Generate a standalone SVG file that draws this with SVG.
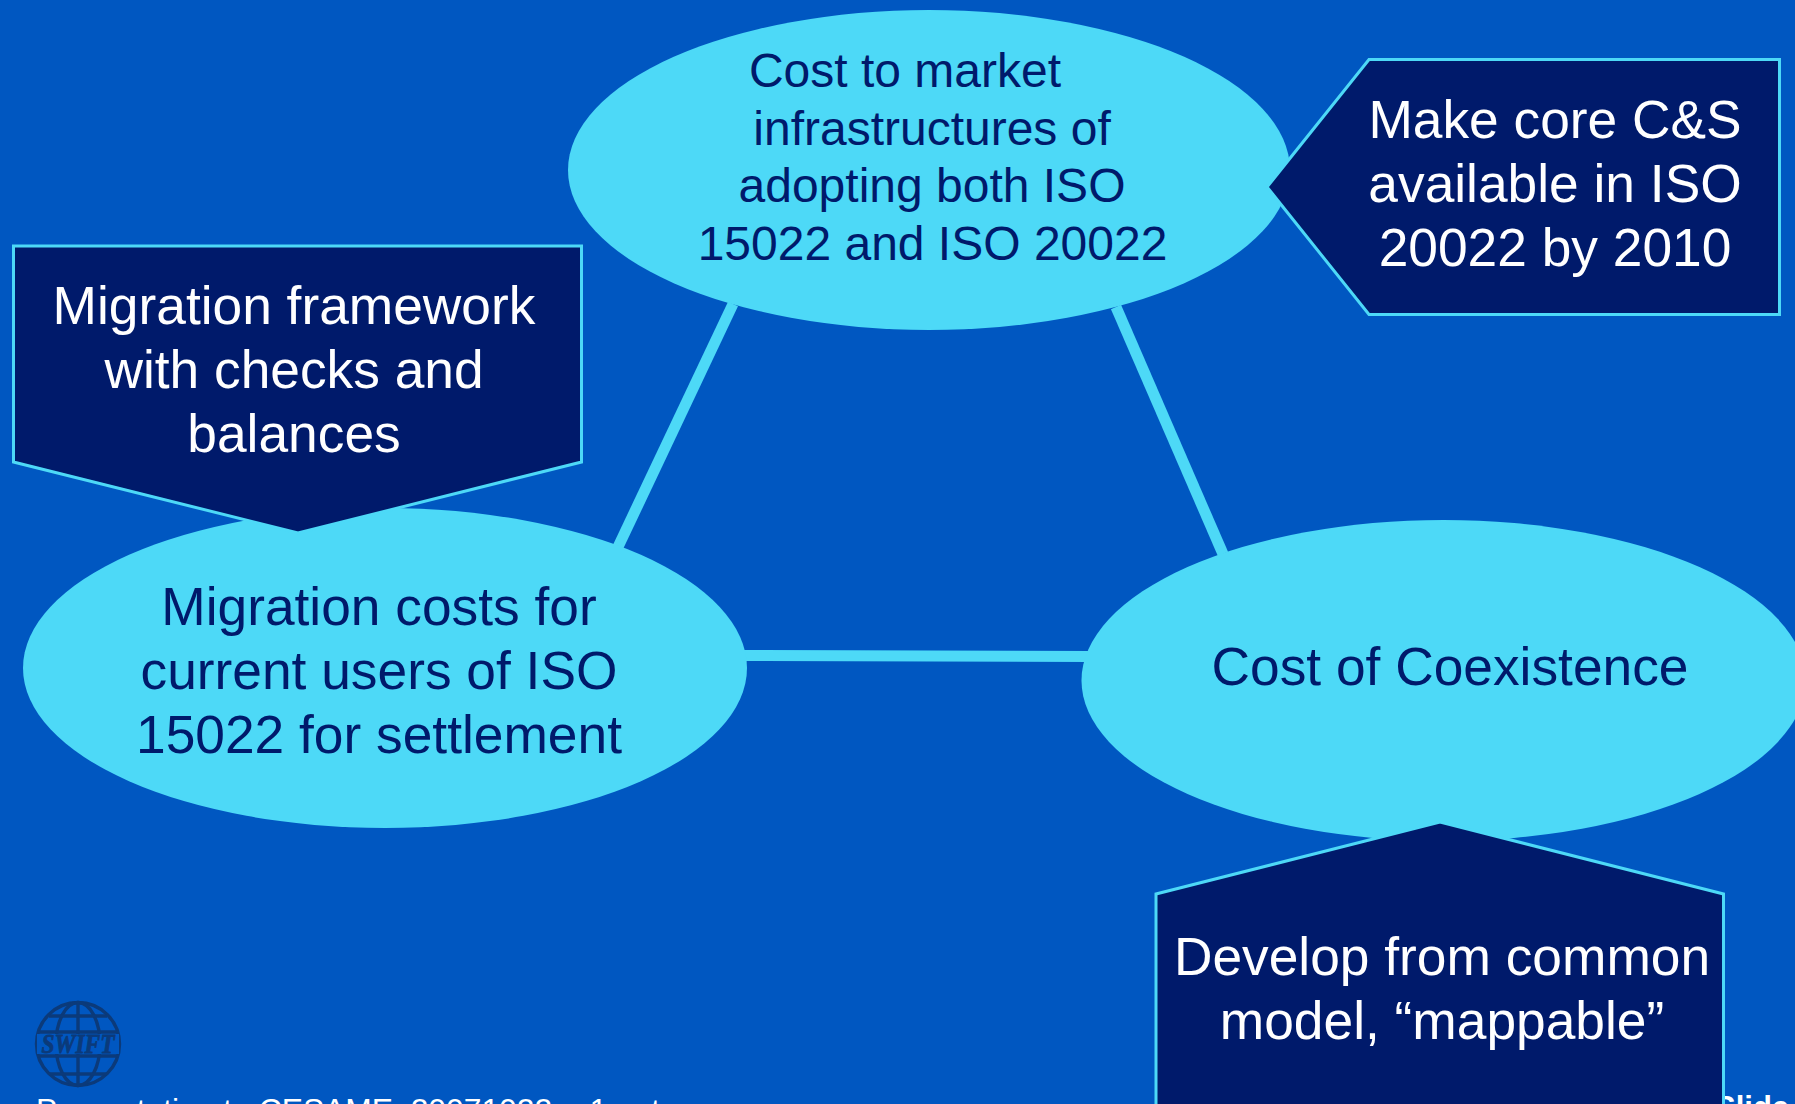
<svg xmlns="http://www.w3.org/2000/svg" width="1795" height="1104" viewBox="0 0 1795 1104">
<style>
text{font-family:"Liberation Sans",Arial,sans-serif;text-anchor:middle}
.e{fill:#4dd9f7}
.b{fill:#001a6b;stroke:#4dd9f7;stroke-width:3}
.w{fill:#fff;font-size:53.3px}
.d{fill:#001a6b;font-size:53.3px}
.t{fill:#001a6b;font-size:48px}
.c{stroke:#4dd9f7;stroke-width:11;fill:none}
.g{fill:none;stroke:#0b3a7a;stroke-width:3.4}
</style>
<rect width="1795" height="1104" fill="#0057c1"/>
<g id="connectors">
<line class="c" x1="733" y1="304" x2="618" y2="547"/>
<line class="c" x1="1116" y1="307" x2="1223" y2="554"/>
<line class="c" x1="744" y1="655.5" x2="1090" y2="656.5"/>
</g>
<g id="footer-slide"><text x="1715" y="1118" style="text-anchor:start;font-size:31px;font-weight:bold" fill="#fff">Slide</text></g>
<g id="node-top">
<ellipse class="e" cx="929" cy="170" rx="361" ry="160"/>
<text class="t" x="905" y="87">Cost to market</text>
<text class="t" x="932" y="144.5">infrastructures of</text>
<text class="t" x="932" y="202">adopting both ISO</text>
<text class="t" x="932.5" y="260">15022 and ISO 20022</text>
</g>
<g id="node-left">
<ellipse class="e" cx="385" cy="668" rx="362" ry="160"/>
<text class="d" x="379" y="625">Migration costs for</text>
<text class="d" x="379" y="689">current users of ISO</text>
<text class="d" x="379" y="753">15022 for settlement</text>
</g>
<g id="node-right">
<ellipse class="e" cx="1443.5" cy="680.5" rx="362" ry="160.5"/>
<text class="d" x="1450" y="685">Cost of Coexistence</text>
</g>
<g id="callout-left">
<polygon class="b" points="13.5,246 581.5,246 581.5,462 298,533 13.5,462"/>
<text class="w" x="294" y="324">Migration framework</text>
<text class="w" x="294" y="388">with checks and</text>
<text class="w" x="294" y="452">balances</text>
</g>
<g id="callout-right">
<polygon class="b" points="1369,59.5 1779.5,59.5 1779.5,314.5 1369,314.5 1267,187"/>
<text class="w" x="1555" y="138">Make core C&amp;S</text>
<text class="w" x="1555" y="202">available in ISO</text>
<text class="w" x="1555" y="266">20022 by 2010</text>
</g>
<g id="callout-bottom">
<polygon class="b" points="1440,822 1723.5,894 1723.5,1130 1156,1130 1156,894"/>
<text class="w" x="1442" y="975">Develop from common</text>
<text class="w" x="1442" y="1039">model, “mappable”</text>
</g>
<g id="logo">
<ellipse class="g" cx="78" cy="1044" rx="41.5" ry="41.5"/>
<ellipse class="g" cx="78" cy="1044" rx="22" ry="41.5"/>
<line class="g" x1="78" y1="1003" x2="78" y2="1085"/>
<line class="g" x1="49" y1="1016" x2="107" y2="1016"/>
<line class="g" x1="38" y1="1032" x2="118" y2="1032"/>
<line class="g" x1="38" y1="1056" x2="118" y2="1056"/>
<line class="g" x1="49" y1="1074" x2="107" y2="1074"/>
<rect x="37" y="1034" width="82" height="20" fill="#0057c1"/>
<text x="78" y="1053" style="font-family:'Liberation Serif',serif;font-size:27px;font-weight:bold;font-style:italic;stroke:#0b3a7a;stroke-width:.8" fill="#0b3a7a" textLength="73" lengthAdjust="spacingAndGlyphs">SWIFT</text>
</g>
<g id="footer"><text x="36" y="1121" style="text-anchor:start;font-size:31.8px" fill="#fff">Presentation to CESAME, 20071022 -<tspan dx="9"> 1.ppt</tspan></text></g>
</svg>
